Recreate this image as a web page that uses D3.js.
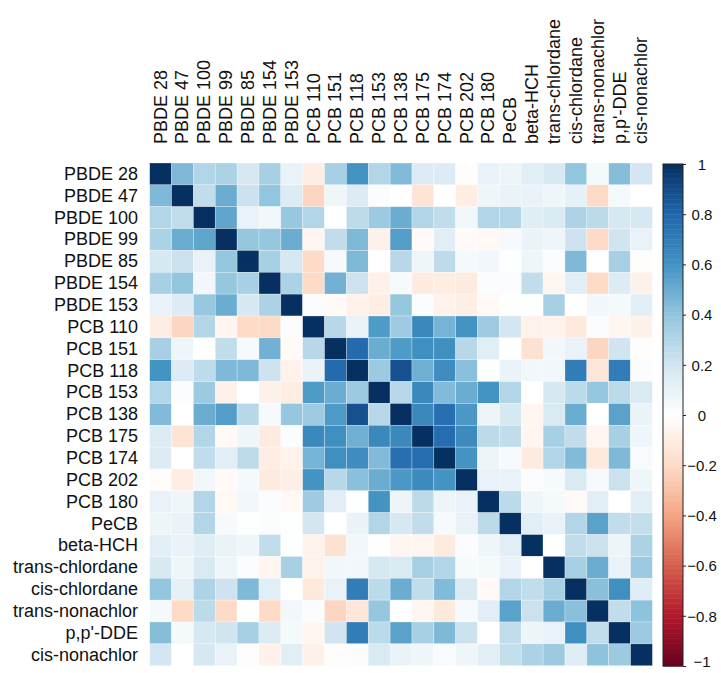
<!DOCTYPE html>
<html><head><meta charset="utf-8">
<script src="https://cdn.jsdelivr.net/npm/d3@7"></script>
<style>body{margin:0;background:#fff}svg{display:block}text{font-family:"Liberation Sans",Arial,sans-serif;fill:#111}</style>
</head><body><svg id="c" width="721" height="673"></svg>
<script>
const variables = ["PBDE 28","PBDE 47","PBDE 100","PBDE 99","PBDE 85","PBDE 154","PBDE 153",
  "PCB 110","PCB 151","PCB 118","PCB 153","PCB 138","PCB 175","PCB 174","PCB 202","PCB 180",
  "PeCB","beta-HCH","trans-chlordane","cis-chlordane","trans-nonachlor","p,p'-DDE","cis-nonachlor"];
// upper triangle, row i holds correlations with columns i+1 .. 22
const upper = [
  [0.45,0.30,0.32,0.18,0.33,0.10,-0.10,0.33,0.60,0.30,0.44,0.15,0.15,-0.01,0.10,0.08,0.13,0.17,0.40,0.05,0.43,0.19],
  [0.25,0.50,0.22,0.40,0.15,-0.22,0.07,0.15,0.02,0.00,-0.15,0.00,-0.10,0.07,0.09,0.10,0.07,0.11,-0.20,0.05,0.00],
  [0.53,0.10,0.06,0.38,0.30,0.00,0.26,0.37,0.50,0.30,0.25,0.06,0.30,0.30,0.14,0.16,0.31,0.27,0.18,0.18],
  [0.39,0.39,0.50,-0.05,0.25,0.45,-0.08,0.56,-0.03,0.13,-0.03,-0.04,0.04,0.09,0.07,0.21,-0.20,0.20,0.10],
  [0.33,0.18,-0.20,0.04,0.45,0.00,0.28,0.07,0.26,0.05,0.06,0.01,0.07,0.02,0.45,0.00,0.33,-0.01],
  [0.32,-0.20,0.48,0.21,-0.08,0.04,-0.11,-0.10,-0.11,0.02,0.02,0.25,-0.05,0.13,-0.20,0.15,-0.08],
  [0.02,-0.03,-0.07,-0.10,0.39,0.02,-0.07,-0.09,-0.04,0.01,0.01,0.33,0.00,0.06,0.05,0.13],
  [0.28,0.09,0.57,0.36,0.65,0.47,0.60,0.36,0.19,-0.07,-0.07,-0.12,0.02,-0.05,-0.08],
  [0.78,0.50,0.57,0.62,0.62,0.28,0.13,0.00,-0.16,0.06,0.10,-0.22,0.20,-0.01],
  [0.37,0.88,0.49,0.63,0.42,0.01,0.09,0.06,0.06,0.70,-0.14,0.70,0.02],
  [0.28,0.65,0.44,0.50,0.60,0.30,0.00,0.18,0.27,0.39,0.27,0.16],
  [0.65,0.76,0.58,0.08,0.18,-0.05,0.16,0.50,0.00,0.54,0.09],
  [0.77,0.64,0.27,0.25,-0.05,0.33,0.25,-0.05,0.33,0.07],
  [0.60,0.08,0.04,-0.11,0.30,0.44,-0.12,0.45,0.03],
  [0.10,0.10,0.02,0.04,0.16,0.04,0.22,0.07],
  [0.27,0.07,0.05,-0.03,0.13,0.00,0.13],
  [0.13,0.10,0.30,0.54,0.25,0.24],
  [0.00,0.25,0.22,0.08,0.32],
  [0.33,0.50,0.10,0.37],
  [0.42,0.62,0.14],
  [0.25,0.41],
  [0.37]
];
const legendTicks = [1,0.8,0.6,0.4,0.2,0,-0.2,-0.4,-0.6,-0.8,-1];
const paletteStops = ["#67001F","#B2182B","#D6604D","#F4A582","#FDDBC7","#FFFFFF","#D1E5F0","#92C5DE","#4393C3","#2166AC","#053061"];

const n = variables.length;
const cells = [];
for (let i = 0; i < n; i++) for (let j = 0; j < n; j++) {
  let v;
  if (i === j) v = 1;
  else if (j > i) v = upper[i][j - i - 1];
  else v = upper[j][i - j - 1];
  cells.push({r: variables[i], c: variables[j], v});
}

const svg = d3.select("#c");
const mLeft = 149.7, mTop = 163, mSize = 502.7;
const x = d3.scaleBand().domain(variables).range([mLeft, mLeft + mSize]);
const y = d3.scaleBand().domain(variables).range([mTop, mTop + mSize]);
const color = d3.scaleLinear().domain(d3.range(-1, 1.0001, 0.2)).range(paletteStops).interpolate(d3.interpolateRgb);

svg.append("g").selectAll("rect").data(cells).join("rect")
  .attr("x", d => x(d.c)).attr("y", d => y(d.r))
  .attr("width", x.bandwidth()).attr("height", y.bandwidth())
  .attr("fill", d => color(d.v))
  .attr("stroke", "#fff").attr("stroke-opacity", 0.45).attr("stroke-width", 0.6);

// row labels
svg.append("g").selectAll("text").data(variables).join("text")
  .attr("x", 138).attr("y", d => y(d) + y.bandwidth() / 2)
  .attr("text-anchor", "end").attr("dominant-baseline", "central")
  .style("font-size", "18px").text(d => d);

// column labels
svg.append("g").selectAll("text").data(variables).join("text")
  .attr("transform", d => `translate(${x(d) + x.bandwidth() / 2},144) rotate(-90)`)
  .attr("text-anchor", "start").attr("dominant-baseline", "central")
  .style("font-size", "18px").text(d => d);

// colour legend
const lx = 663, lw = 20, ly0 = 164, ly1 = 666;
const ly = d3.scaleLinear().domain([1, -1]).range([ly0, ly1]);
const steps = d3.range(200).map(k => 1 - (k + 0.5) * 2 / 200);
const lg = svg.append("g");
lg.selectAll("rect.s").data(steps).join("rect").attr("class", "s")
  .attr("x", lx).attr("width", lw)
  .attr("y", d => ly(d + 1 / 200)).attr("height", (ly1 - ly0) / 200 + 0.5)
  .attr("fill", d => color(d));
lg.append("rect").attr("x", lx).attr("y", ly0).attr("width", lw).attr("height", ly1 - ly0)
  .attr("fill", "none").attr("stroke", "#222").attr("stroke-width", 1);
const axis = d3.axisRight(ly).tickValues(legendTicks).tickSize(3).tickFormat(d3.format("~g"));
const ag = lg.append("g").attr("transform", `translate(${lx + lw},0)`).call(axis);
ag.select(".domain").remove();
ag.selectAll(".tick line").attr("stroke", "#222");
ag.selectAll(".tick text").attr("x", 19).attr("text-anchor", "middle")
  .attr("dy", d => d === -1 ? "0.05em" : "0.35em").style("font-size", "15px").style("fill", "#111");
</script></body></html>
